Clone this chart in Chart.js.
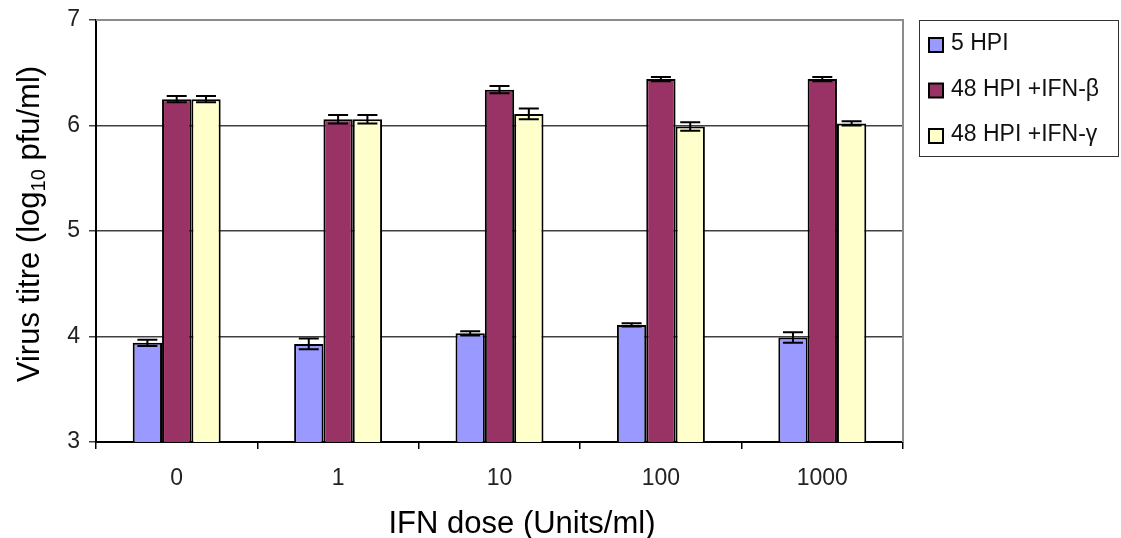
<!DOCTYPE html>
<html>
<head>
<meta charset="utf-8">
<script src="https://cdn.jsdelivr.net/npm/chart.js@4/dist/chart.umd.min.js"></script>
<style>
  body { margin: 0; background: #fff; }
  #wrap { width: 1121px; height: 538px; }
</style>
</head>
<body>
<div id="wrap"><canvas id="chart"></canvas></div>
<script>
const doses = ['0', '1', '10', '100', '1000']
const seriesNames = ['5 HPI', '48 HPI +IFN-β', '48 HPI +IFN-γ']
const hpi5 = [3.94, 3.93, 4.03, 4.11, 3.99]
const hpi48Beta = [6.25, 6.06, 6.34, 6.44, 6.44]
const hpi48Gamma = [6.25, 6.06, 6.11, 5.99, 6.02]
const err5 = [0.03, 0.05, 0.02, 0.015, 0.05]
const errBeta = [0.03, 0.04, 0.035, 0.02, 0.02]
const errGamma = [0.03, 0.04, 0.05, 0.04, 0.02]
const yTicks = [3, 4, 5, 6, 7]

const colors = ['#9999ff', '#993366', '#ffffcc']
const font = 'Liberation Sans, Arial, sans-serif'

const errorBars = {
  id: 'errorBars',
  afterDatasetsDraw (chart) {
    const ctx = chart.ctx
    const y = chart.scales.y
    const errs = [err5, errBeta, errGamma]
    ctx.save()
    ctx.strokeStyle = '#000'
    ctx.lineWidth = 2
    chart.data.datasets.forEach((ds, d) => {
      chart.getDatasetMeta(d).data.forEach((bar, i) => {
        const v = ds.data[i]
        const top = y.getPixelForValue(v + errs[d][i])
        const bot = y.getPixelForValue(v - errs[d][i])
        ctx.beginPath()
        ctx.moveTo(bar.x, top); ctx.lineTo(bar.x, bot)
        ctx.moveTo(bar.x - 10, top); ctx.lineTo(bar.x + 10, top)
        ctx.moveTo(bar.x - 10, bot); ctx.lineTo(bar.x + 10, bot)
        ctx.stroke()
      })
    })
    ctx.restore()
  }
}

const frame = {
  id: 'frame',
  beforeDatasetsDraw (chart) {
    const a = chart.chartArea
    const ctx = chart.ctx
    ctx.save()
    ctx.strokeStyle = '#8c8c8c'
    ctx.lineWidth = 2
    ctx.beginPath()
    ctx.moveTo(a.left, a.top); ctx.lineTo(a.right, a.top); ctx.lineTo(a.right, a.bottom)
    ctx.stroke()
    ctx.restore()
  },
  afterDraw (chart) {
    const ctx = chart.ctx
    ctx.save()
    ctx.fillStyle = '#000'
    ctx.textBaseline = 'middle'
    ctx.textAlign = 'center'
    // x axis title
    ctx.font = '31px ' + font
    ctx.fillText('IFN dose (Units/ml)', 522, 524)

    // y axis title with subscript
    ctx.translate(30, 224)
    ctx.rotate(-Math.PI / 2)
    const p1 = 'Virus titre (log'
    const sub = '10'
    const p2 = ' pfu/ml)'
    ctx.font = '31px ' + font
    const w1 = ctx.measureText(p1).width
    const w3 = ctx.measureText(p2).width
    ctx.font = '20px ' + font
    const w2 = ctx.measureText(sub).width
    let x = -(w1 + w2 + w3) / 2
    ctx.textAlign = 'left'
    ctx.font = '31px ' + font
    ctx.fillText(p1, x, 0)
    x += w1
    ctx.font = '20px ' + font
    ctx.fillText(sub, x, 9)
    x += w2
    ctx.font = '31px ' + font
    ctx.fillText(p2, x, 0)
    ctx.restore()

    // legend box
    ctx.save()
    ctx.strokeStyle = '#333'
    ctx.lineWidth = 1
    ctx.strokeRect(919.5, 20.5, 199, 136)
    ctx.font = '23px ' + font
    ctx.textBaseline = 'middle'
    ctx.textAlign = 'left'
    chart.data.datasets.forEach((ds, i) => {
      const cy = 44 + i * 45.5
      ctx.fillStyle = ds.backgroundColor
      ctx.fillRect(929, cy - 6, 14, 14)
      ctx.lineWidth = 2
      ctx.strokeStyle = '#000'
      ctx.strokeRect(929, cy - 6, 14, 14)
      ctx.fillStyle = '#111'
      ctx.fillText(ds.label, 951, cy)
    })
    ctx.restore()
  }
}

const datasets = [hpi5, hpi48Beta, hpi48Gamma].map((vals, i) => ({
  label: seriesNames[i],
  data: vals,
  backgroundColor: colors[i],
  borderColor: '#000',
  borderWidth: 2,
  borderSkipped: false,
  barPercentage: 1.0,
  categoryPercentage: 0.545
}))

new Chart(document.getElementById('chart'), {
  type: 'bar',
  data: { labels: doses, datasets: datasets },
  options: {
    responsive: true,
    maintainAspectRatio: false,
    animation: false,
    layout: { padding: { left: 0, top: 20, right: 218, bottom: 0 } },
    plugins: { legend: { display: false }, tooltip: { enabled: false } },
    scales: {
      x: {
        afterFit: s => { s.height = 96; s.paddingLeft = 0; s.paddingRight = 0 },
        grid: { display: true, drawOnChartArea: false, offset: true, tickLength: 7, color: '#000', lineWidth: 1.5 },
        border: { color: '#000', width: 2 },
        ticks: { color: '#222', font: { family: font, size: 23 }, padding: 16 }
      },
      y: {
        min: 3,
        max: 7,
        afterFit: s => { s.width = 96; s.paddingTop = 0; s.paddingBottom = 0 },
        afterBuildTicks: s => { s.ticks = yTicks.map(v => ({ value: v })) },
        grid: { color: '#404040', lineWidth: 1.5, tickLength: 7, drawTicks: true },
        border: { color: '#000', width: 2 },
        ticks: { color: '#222', font: { family: font, size: 23 }, padding: 9 }
      }
    }
  },
  plugins: [frame, errorBars]
})
</script>
</body>
</html>
